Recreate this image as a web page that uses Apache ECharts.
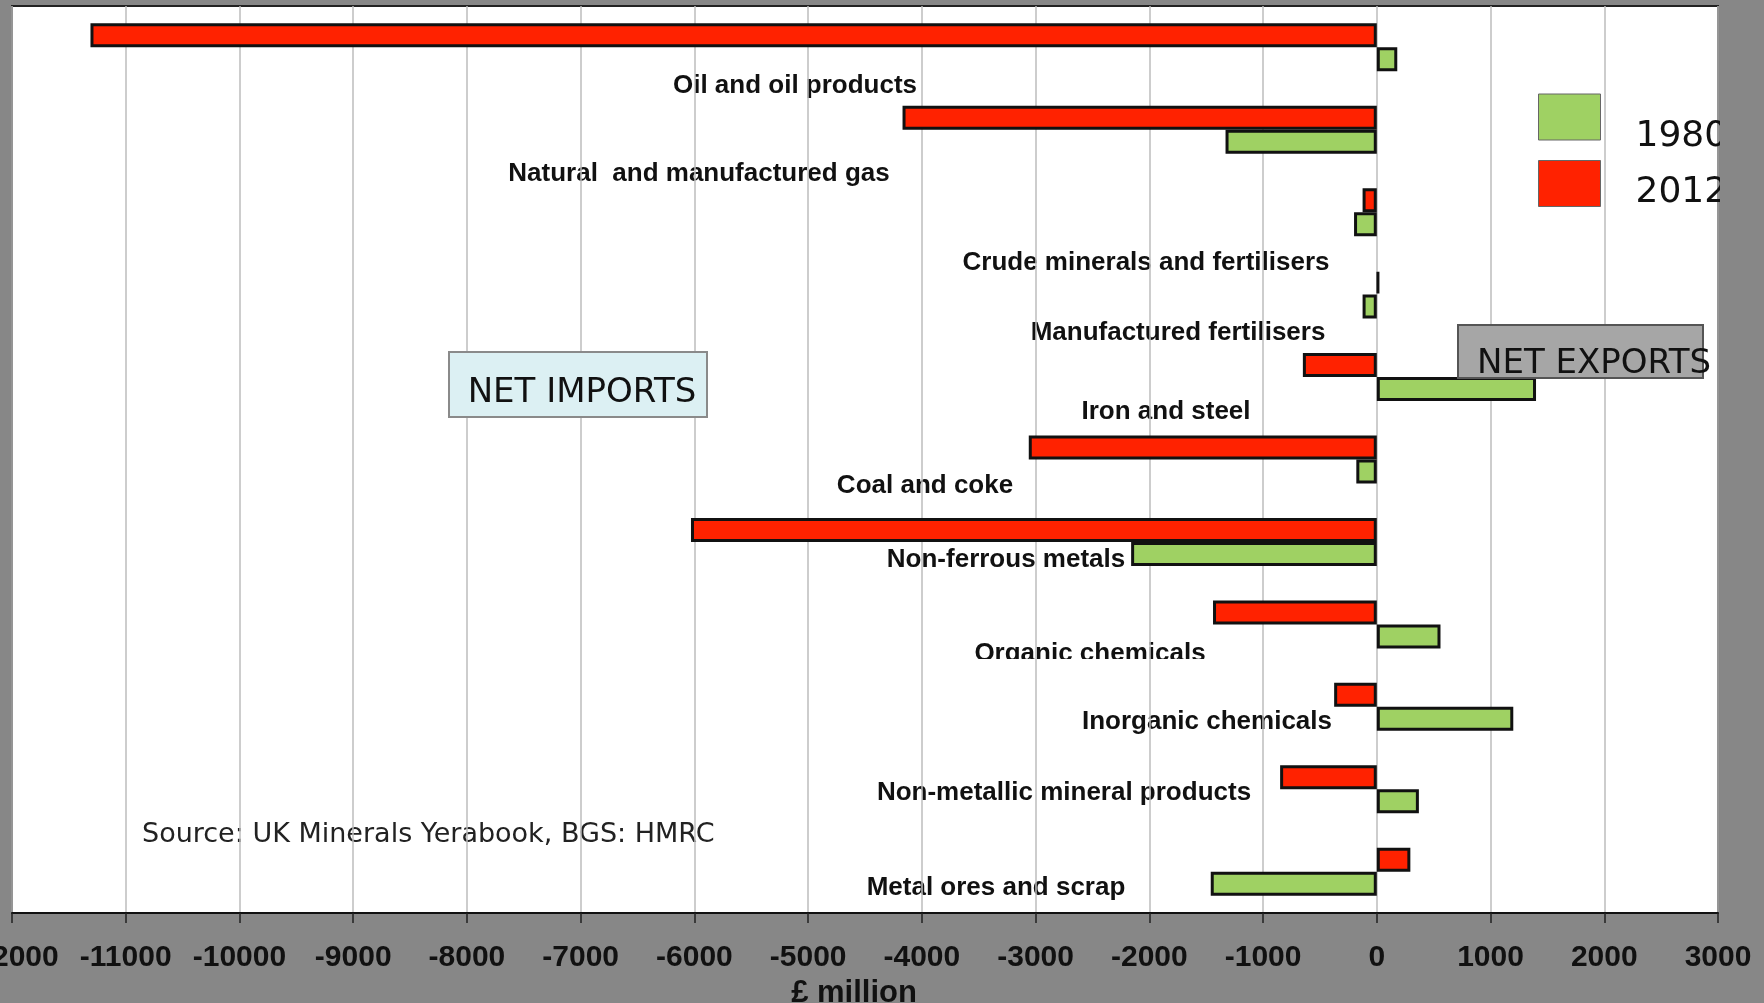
<!DOCTYPE html>
<html>
<head>
<meta charset="utf-8">
<script src="https://cdn.jsdelivr.net/npm/echarts@6/dist/echarts.min.js"></script>
<style>
html,body{margin:0;padding:0;background:#878787;}
#chart{width:1764px;height:1003px;}
</style>
</head>
<body>
<div id="chart"></div>
<script>
// ---- data (£ million) ----
const categories = [
  'Oil and oil products',
  'Natural  and manufactured gas',
  'Crude minerals and fertilisers',
  'Manufactured fertilisers',
  'Iron and steel',
  'Coal and coke',
  'Non-ferrous metals',
  'Organic chemicals',
  'Inorganic chemicals',
  'Non-metallic mineral products',
  'Metal ores and scrap'
];
const values1980 = [180, -1330, -200, -125, 1400, -180, -2160, 560, 1200, 370, -1460];
const values2012 = [-11310, -4170, -125, 20, -650, -3060, -6030, -1440, -375, -850, 295];
const seriesNames = ['1980', '2012'];
const axisMin = -12000;
const axisMax = 3000;
const axisStep = 1000;
const axisTitle = '£ million';
const boxTexts = ['NET IMPORTS', 'NET EXPORTS'];
const sourceText = 'Source: UK Minerals Yerabook, BGS: HMRC';

// ---- layout of the category captions (pixel centres) ----
const captionLayout = [
  [795, 86], [699, 174], [1146, 263], [1178, 333], [1166, 412], [925, 486],
  [1006, 560], [1090, 654], [1207, 722], [1064, 793], [996, 888]
];
// vertical offset of each legend label below its swatch (px)
const legendLabelDrop = {'1980': 39, '2012': 19};

const BG = '#878787';
const RED = '#ff2200';
const GREEN = '#9fd163';
const sans = '"Liberation Sans", Arial, sans-serif';
const deja = '"DejaVu Sans", Verdana, sans-serif';

const chart = echarts.init(document.getElementById('chart'), null, {renderer: 'canvas'});

const graphics = [];
// plot background (below grid lines)
graphics.push({type: 'rect', z: -20, shape: {x: 12, y: 6, width: 1706, height: 908}, style: {fill: '#ffffff'}});
// captions
categories.forEach((c, i) => {
  graphics.push({
    type: 'text', z: -10,
    style: {
      text: c, x: captionLayout[i][0], y: captionLayout[i][1],
      textAlign: 'center', textVerticalAlign: 'middle', align: 'center', verticalAlign: 'middle',
      font: 'bold 26px ' + sans, fill: '#111'
    }
  });
});
// mask that hides the lower part of the "Organic chemicals" caption
graphics.push({type: 'rect', z: -9, shape: {x: 960, y: 659, width: 260, height: 14}, style: {fill: '#ffffff'}});
// source note
graphics.push({
  type: 'text', z: -10,
  style: {text: sourceText, x: 142, y: 835, textAlign: 'left', textVerticalAlign: 'middle', align: 'left', verticalAlign: 'middle',
          font: '27px ' + deja, fill: '#222'}
});
// NET IMPORTS box
graphics.push({type: 'rect', z: 10, shape: {x: 449, y: 352, width: 258, height: 65}, style: {fill: '#dcf0f3', stroke: '#8a8a8a', lineWidth: 2}});
graphics.push({type: 'text', z: 11, style: {text: boxTexts[0], x: 582, y: 393, textAlign: 'center', textVerticalAlign: 'middle', align: 'center', verticalAlign: 'middle', font: '34px ' + deja, fill: '#111'}});
// NET EXPORTS box
graphics.push({type: 'rect', z: 10, shape: {x: 1458, y: 325, width: 245, height: 53}, style: {fill: '#a6a6a6', stroke: '#555', lineWidth: 2}});
graphics.push({type: 'text', z: 11, style: {text: boxTexts[1], x: 1477, y: 364, textAlign: 'left', textVerticalAlign: 'middle', align: 'left', verticalAlign: 'middle', font: '34px ' + deja, fill: '#111'}});
// grey strip at the right that clips the legend text
graphics.push({type: 'rect', z: 50, shape: {x: 1720, y: 0, width: 44, height: 912}, style: {fill: BG}});

chart.setOption({
  backgroundColor: BG,
  animation: false,
  grid: {left: 12, right: 46, top: 6, bottom: 90, show: true, backgroundColor: 'transparent', borderColor: '#222', borderWidth: 2,
         containLabel: false, outerBoundsMode: 'none'},
  legend: {
    data: seriesNames, orient: 'vertical', left: 1538, top: 93, padding: 0,
    itemWidth: 62, itemHeight: 46, itemGap: 5, icon: 'rect', selectedMode: false,
    formatter: name => '{g' + name + '| }\n{t|' + name + '}',
    itemStyle: {borderColor: '#666', borderWidth: 1},
    textStyle: {
      fontFamily: deja, fontSize: 36, color: '#111', padding: [0, 0, 0, 30],
      rich: {
        g1980: {fontSize: 8, lineHeight: legendLabelDrop['1980']},
        g2012: {fontSize: 8, lineHeight: legendLabelDrop['2012']},
        t: {fontFamily: deja, fontSize: 36, color: '#111', lineHeight: 40}
      }
    }
  },
  xAxis: {
    type: 'value', min: axisMin, max: axisMax, interval: axisStep,
    position: 'bottom',
    axisLine: {show: true, onZero: false, lineStyle: {color: '#111', width: 2}},
    axisTick: {show: true, length: 10, lineStyle: {color: '#222', width: 1.5}},
    splitLine: {show: true, lineStyle: {color: '#bdbdbd', width: 1.5}},
    axisLabel: {fontFamily: sans, fontWeight: 'bold', fontSize: 30, color: '#111', margin: 30,
                formatter: v => String(v)},
    name: axisTitle, nameLocation: 'middle', nameGap: 64,
    nameTextStyle: {fontFamily: sans, fontWeight: 'bold', fontSize: 31, color: '#111', padding: [0, 22, 0, 0]}
  },
  yAxis: {
    type: 'category', data: categories, inverse: true,
    axisLine: {show: false}, axisTick: {show: false}, axisLabel: {show: false}, splitLine: {show: false}
  },
  series: [
    {name: seriesNames[1], type: 'bar', data: values2012, barWidth: 24, barGap: '0%',
     itemStyle: {color: RED, borderColor: '#111', borderWidth: 3}},
    {name: seriesNames[0], type: 'bar', data: values1980, barWidth: 24, barGap: '0%',
     itemStyle: {color: GREEN, borderColor: '#111', borderWidth: 3}}
  ],
  graphic: {elements: graphics}
});
</script>
</body>
</html>
